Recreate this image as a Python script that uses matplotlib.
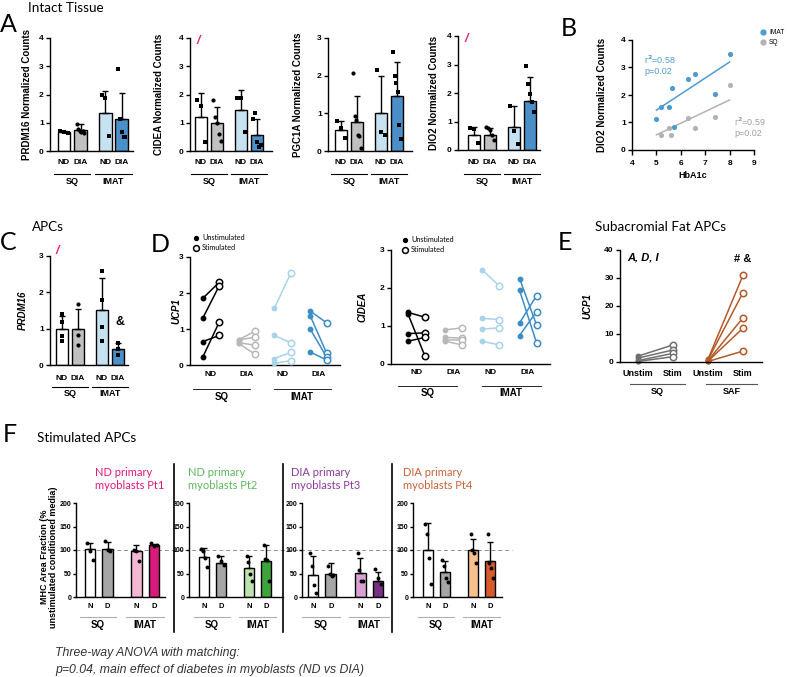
import numpy as np
import matplotlib
matplotlib.use('Agg')
import matplotlib.pyplot as plt
from matplotlib.lines import Line2D
from matplotlib.transforms import blended_transform_factory as blend

plt.rcParams['font.family'] = ['Liberation Sans', 'DejaVu Sans']
plt.rcParams['font.weight'] = 'bold'
plt.rcParams['axes.linewidth'] = 1.0
plt.rcParams['xtick.major.width'] = 1.0
plt.rcParams['ytick.major.width'] = 1.0
plt.rcParams['ytick.major.size'] = 3
plt.rcParams['ytick.major.pad'] = 1.5
plt.rcParams['ytick.labelsize'] = 6
plt.rcParams['xtick.labelsize'] = 6

SANS = ['Lato', 'DejaVu Sans']

# ---------------- data ----------------
# A: intact tissue, bars in order SQ-ND, SQ-DIA, IMAT-ND, IMAT-DIA
bar_names = ['ND', 'DIA', 'ND', 'DIA']
prdm16_mean = [0.66, 0.74, 1.35, 1.12]
prdm16_sd = [0.05, 0.23, 0.78, 0.92]
prdm16_pts = [[0.70, 0.66, 0.63], [0.97, 0.78, 0.70, 0.68, 0.72, 0.62],
              [2.00, 1.88, 0.52], [2.92, 1.15, 0.68, 0.50, 0.48]]
cidea_mean = [1.21, 0.98, 1.45, 0.56]
cidea_sd = [0.83, 0.58, 0.70, 0.59]
cidea_pts = [[1.80, 1.59, 0.33], [1.82, 1.20, 1.00, 0.60, 0.35],
             [1.88, 1.88, 0.66], [1.15, 1.33, 0.33, 0.15, 0.20]]
pgc1a_mean = [0.57, 0.76, 1.02, 1.47]
pgc1a_sd = [0.23, 0.71, 0.98, 0.88]
pgc1a_pts = [[0.80, 0.60, 0.35], [2.06, 0.93, 0.82, 0.42, 0.40, 0.07],
             [2.15, 0.50, 0.42], [2.63, 2.00, 1.81, 1.57, 0.69, 0.31]]
dio2_mean = [0.51, 0.54, 0.82, 1.72]
dio2_sd = [0.31, 0.22, 0.73, 0.83]
dio2_pts = [[0.76, 0.73, 0.23], [0.82, 0.76, 0.70, 0.53, 0.35],
            [1.55, 0.67, 0.22], [2.93, 2.30, 1.95, 1.70, 1.35]]

# B: DIO2 vs HbA1c
imat_hba1c = [5.0, 5.2, 5.5, 5.62, 5.71, 6.31, 6.6, 7.4, 8.0]
imat_dio2 = [1.13, 1.55, 1.58, 2.27, 0.85, 2.58, 2.76, 2.02, 3.49]
sq_hba1c = [5.2, 5.5, 5.6, 6.31, 6.6, 7.4, 8.0]
sq_dio2 = [0.55, 0.79, 0.55, 1.18, 0.79, 1.21, 2.35]
fit_x = [5.0, 8.0]
imat_fit = [1.45, 3.20]
sq_fit = [0.55, 1.82]

# C: APC PRDM16
apc_prdm16_mean = [1.0, 1.0, 1.52, 0.44]
apc_prdm16_sd = [0.35, 0.53, 0.88, 0.16]
apc_prdm16_pts = [[1.40, 1.18, 0.80, 0.65], [1.68, 0.83, 0.55],
                  [2.60, 1.80, 1.05, 0.67], [0.60, 0.45, 0.28]]

# D: paired unstimulated -> stimulated
ucp1_unstim = [[1.85, 1.30, 0.65, 0.22], [0.70, 0.70, 0.62, 0.60],
               [1.58, 0.82, 0.18, 0.05], [1.50, 1.37, 1.00, 0.36]]
ucp1_stim = [[2.30, 2.20, 0.82, 1.19], [0.94, 0.77, 0.55, 0.30],
             [2.55, 0.62, 0.35, 0.12], [1.17, 0.33, 0.22, 0.14]]
cidea_unstim = [[1.36, 1.32, 0.80, 0.60], [0.90, 0.70, 0.62, 0.60],
                [2.47, 1.20, 0.92, 0.60], [2.25, 1.94, 1.08, 0.75]]
cidea_stim = [[1.23, 0.20, 0.82, 0.70], [0.95, 0.68, 0.62, 0.50],
              [2.05, 1.17, 0.95, 0.50], [1.02, 0.55, 1.80, 1.38]]

# E: subacromial fat
e_sq_unstim = [2.1, 1.4, 0.5, 0.2]
e_sq_stim = [6.1, 4.3, 3.1, 1.9]
e_saf_unstim = [1.0, 0.8, 0.5, 0.3, 0.2]
e_saf_stim = [31.0, 24.8, 15.8, 12.1, 3.9]

# F: MHC area fraction, one block per myoblast donor
f_titles = ['ND primary\nmyoblasts Pt1', 'ND primary\nmyoblasts Pt2',
            'DIA primary\nmyoblasts Pt3', 'DIA primary\nmyoblasts Pt4']
f_mean = [[102, 102, 98, 111], [85, 72, 62, 77], [47, 48, 51, 33], [99, 53, 100, 76]]
f_sd = [[13, 16, 13, 2], [20, 15, 26, 33], [40, 24, 31, 20], [58, 23, 24, 41]]
f_pts = [[[115, 97, 79], [120, 100, 98], [100, 98, 76], [115, 109, 111]],
         [[103, 98, 83, 63], [87, 77, 68], [88, 75, 48, 33], [110, 80, 78, 35]],
         [[93, 67, 25, 8], [67, 50, 45, 47], [93, 57, 35, 33], [60, 40, 28]],
         [[155, 135, 84, 28], [79, 65, 40, 32], [134, 100, 93, 73], [134, 72, 62, 40]]]

# colours
tissue_colors = ['white', '#c0c0c0', '#c6e2f1', '#4a8fc7']
pair_colors = ['black', '#b8b8b8', '#a9d3ea', '#3b8dc8']
imat_blue = '#4f9bd0'
sq_grey = '#b3b3b3'
e_sq_color = '#707070'
e_saf_color = '#b35a26'
f_imat_colors = [('#f4b8d4', '#d81b7a'), ('#bfe3ae', '#3da33b'),
                 ('#d9a1d6', '#7a2f86'), ('#f7c18e', '#d85a2c')]
f_title_colors = ['#e0197f', '#5cb85c', '#8e3a9e', '#c8623a']
magenta = '#e8236f'

# ---------------- layout helpers (pixel positions) ----------------
W, H = 787, 677
fig = plt.figure(figsize=(W / 100, H / 100), dpi=100)


def make_ax(x0, y0, x1, y1):
    ax = fig.add_axes([x0 / W, 1 - y1 / H, (x1 - x0) / W, (y1 - y0) / H])
    ax.patch.set_visible(False)
    ax.spines['top'].set_visible(False)
    ax.spines['right'].set_visible(False)
    ax.px = (x0, y0, x1, y1)
    return ax


def fy(ax, ypx):
    x0, y0, x1, y1 = ax.px
    return (y1 - ypx) / (y1 - y0)


def fx(ax, xpx):
    x0, y0, x1, y1 = ax.px
    return (xpx - x0) / (x1 - x0)


def xrange_px(ax, first_px, unit_px):
    x0, y0, x1, y1 = ax.px
    ax.set_xlim((x0 - first_px) / unit_px, (x1 - first_px) / unit_px)


def ftext(x, y, s, **kw):
    fig.text(x / W, 1 - y / H, s, **kw)


def xlabels(ax, pos, names, ypx, size=6):
    ax.set_xticks([])
    tr = blend(ax.transData, ax.transAxes)
    for p, n in zip(pos, names):
        ax.text(p, fy(ax, ypx), n, transform=tr, ha='center', va='center',
                fontsize=size, fontweight='bold')


def groups(ax, spans, names, line_y, text_y, color='black', size=6.5, lw=0.8):
    tr = blend(ax.transData, ax.transAxes)
    for (a, b), n in zip(spans, names):
        ax.plot([a, b], [fy(ax, line_y)] * 2, transform=tr, clip_on=False,
                color=color, lw=lw)
        ax.text((a + b) / 2, fy(ax, text_y), n, transform=tr, ha='center',
                va='center', fontsize=size, fontweight='bold')


def ylab(ax, text, xpx, size=7, style='normal'):
    ax.set_ylabel(text, fontsize=size, fontweight='bold', style=style)
    ax.yaxis.set_label_coords(fx(ax, xpx), 0.5)


def bars(ax, pos, means, sds, pts, colors, markers, width, ms, spread=0.22):
    for p, m, sd, pp, c, mk in zip(pos, means, sds, pts, colors, markers):
        ax.bar(p, m, width=width, color=c, edgecolor='black', linewidth=1.0, zorder=2)
        ax.errorbar(p, m, yerr=[[0], [sd]], fmt='none', ecolor='black',
                    elinewidth=1.0, capsize=2.5, capthick=1.0, zorder=3)
        xs = p + np.linspace(-spread, spread, len(pp))
        ax.scatter(xs, pp, s=ms, marker=mk, color='black', linewidths=0,
                   zorder=4, clip_on=False)


def pairs(ax, xc, unstim, stim, color, off=0.23):
    for u, s in zip(unstim, stim):
        ax.plot([xc - off, xc + off], [u, s], color=color, lw=1.1, zorder=2,
                clip_on=False)
    ax.plot([xc - off] * len(unstim), unstim, 'o', color=color, ms=3.2,
            zorder=3, clip_on=False)
    ax.plot([xc + off] * len(stim), stim, 'o', mfc='white', mec=color, ms=4.6,
            mew=1.1, zorder=3, clip_on=False)


def title(x, y, s):
    ftext(x, y, s, fontsize=9.7, family=SANS, weight='normal', va='center')


def letter(x, y, s):
    ftext(x, y, s, fontsize=18, family=SANS, weight='normal', va='center')


# ---------------- section titles / letters ----------------
title(28, 8, 'Intact Tissue')
letter(0, 25, 'A')
letter(561, 28, 'B')
title(32, 227, 'APCs')
letter(0, 243, 'C')
letter(151, 245, 'D')
letter(558, 243, 'E')
title(595, 227, 'Subacromial Fat APCs')
letter(3, 434, 'F')
title(37, 438, 'Stimulated APCs')

# ---------------- A ----------------
pos4 = [0, 1, 2.5, 3.5]
a_marks = ['s', 'o', 's', 's']
a_specs = [
    (50, 133, 38, 151, 64, 16.5, 4, prdm16_mean, prdm16_sd, prdm16_pts, 'PRDM16 Normalized Counts', 32, False),
    (190, 272, 38, 151, 201, 16.0, 4, cidea_mean, cidea_sd, cidea_pts, 'CIDEA Normalized Counts', 164, True),
    (328, 412, 38, 151, 341, 16.0, 3, pgc1a_mean, pgc1a_sd, pgc1a_pts, 'PGC1A Normalized Counts', 303, False),
    (458, 540, 36, 150, 474, 16.0, 4, dio2_mean, dio2_sd, dio2_pts, 'DIO2 Normalized Counts', 439, True),
]
for x0, x1, y0, y1, first, unit, ymax, mean, sd, pts, lab, labx, slash in a_specs:
    ax = make_ax(x0, y0, x1, y1)
    bars(ax, pos4, mean, sd, pts, tissue_colors, a_marks, 0.78, 9)
    ax.set_ylim(0, ymax)
    ax.set_yticks(range(ymax + 1))
    xrange_px(ax, first, unit)
    xlabels(ax, pos4, bar_names, 163)
    groups(ax, [(-0.6, 1.6), (1.9, 4.1)], ['SQ', 'IMAT'], 174, 181)
    ylab(ax, lab, labx)
    if slash:
        ax.text(fx(ax, x0 + 8), fy(ax, y0 + 3), '/', transform=ax.transAxes,
                color=magenta, fontsize=9, style='italic', ha='center', va='center')

# ---------------- B ----------------
ax = make_ax(632, 40, 754, 150)
ax.scatter(imat_hba1c, imat_dio2, s=14, color=imat_blue, linewidths=0, zorder=3)
ax.scatter(sq_hba1c, sq_dio2, s=14, color=sq_grey, linewidths=0, zorder=3)
ax.plot(fit_x, imat_fit, color=imat_blue, lw=1.1, zorder=2)
ax.plot(fit_x, sq_fit, color=sq_grey, lw=1.1, zorder=2)
ax.set_xlim(4, 9)
ax.set_ylim(0, 4)
ax.set_xticks(range(4, 10))
ax.set_yticks(range(5))
ax.set_xlabel('HbA1c', fontsize=6.5, fontweight='bold', labelpad=3)
ylab(ax, 'DIO2 Normalized Counts', 607)
ax.text(4.5, 3.1, 'r$^2$=0.58\np=0.02', color=imat_blue, fontsize=6.5,
        fontweight='normal', va='center', linespacing=1.1)
ax.text(8.2, 0.85, 'r$^2$=0.59\np=0.02', color='#a0a0a0', fontsize=6.5,
        fontweight='normal', va='center', linespacing=1.1)
# legend drawn by hand so it fits inside the right edge
for yy, lab, col in [(32, 'IMAT', imat_blue), (42, 'SQ', sq_grey)]:
    fig.add_artist(Line2D([763 / W], [1 - yy / H], marker='o', ms=3.5, color=col, lw=0))
    ftext(769, yy, lab, fontsize=4.8, weight='normal', va='center')

# ---------------- C ----------------
ax = make_ax(50, 256, 128, 365)
bars(ax, pos4, apc_prdm16_mean, apc_prdm16_sd, apc_prdm16_pts, tissue_colors,
     a_marks, 0.72, 9, spread=0.0)
ax.set_ylim(0, 3)
ax.set_yticks(range(4))
xrange_px(ax, 62, 16)
xlabels(ax, pos4, bar_names, 379)
groups(ax, [(-0.6, 1.6), (1.9, 4.1)], ['SQ', 'IMAT'], 387, 394)
ylab(ax, 'PRDM16', 28, style='italic')
ax.text(fx(ax, 57), fy(ax, 251), '/', transform=ax.transAxes, color=magenta,
        fontsize=9, style='italic', ha='center', va='center')
ax.text(fx(ax, 120), fy(ax, 322), '&', transform=ax.transAxes, fontsize=9,
        fontweight='bold', ha='center', va='center')

# ---------------- D ----------------
d_specs = [
    (190, 340, 257, 365, 211, 35.8, ucp1_unstim, ucp1_stim, 'UCP1', 181, 196, 238, 374, 389, 397),
    (391, 550, 250, 364, 416.5, 37.2, cidea_unstim, cidea_stim, 'CIDEA', 368, 405, 240, 372, 386, 393),
]
for x0, x1, y0, y1, first, unit, un, st, lab, labx, legx, legy, ty, ly, gy in d_specs:
    ax = make_ax(x0, y0, x1, y1)
    for i in range(4):
        pairs(ax, i, un[i], st[i], pair_colors[i])
    ax.set_ylim(0, 3)
    ax.set_yticks(range(4))
    xrange_px(ax, first, unit)
    xlabels(ax, range(4), bar_names, ty)
    groups(ax, [(-0.5, 1.1), (1.75, 3.35)], ['SQ', 'IMAT'], ly, gy, lw=0.6, size=7)
    ylab(ax, lab, labx, style='italic')
    ax.plot([fx(ax, legx)], [fy(ax, legy)], 'o', color='black', ms=2.8,
            transform=ax.transAxes, clip_on=False)
    ax.plot([fx(ax, legx)], [fy(ax, legy + 10)], 'o', mfc='white', mec='black',
            ms=4.2, mew=1.1, transform=ax.transAxes, clip_on=False)
    ax.text(fx(ax, legx + 6), fy(ax, legy), 'Unstimulated', transform=ax.transAxes,
            fontsize=5.2, family=SANS, weight='normal', va='center')
    ax.text(fx(ax, legx + 6), fy(ax, legy + 10), 'Stimulated', transform=ax.transAxes,
            fontsize=5.2, family=SANS, weight='normal', va='center')

# ---------------- E ----------------
ax = make_ax(620, 250, 762, 362)
for u, s in zip(e_sq_unstim, e_sq_stim):
    ax.plot([0, 1], [u, s], color=e_sq_color, lw=1.1, zorder=2)
ax.plot([0] * len(e_sq_unstim), e_sq_unstim, 'o', color=e_sq_color, ms=3.2, clip_on=False)
ax.plot([1] * len(e_sq_stim), e_sq_stim, 'o', mfc='white', mec=e_sq_color, ms=4.6, mew=1.1)
for u, s in zip(e_saf_unstim, e_saf_stim):
    ax.plot([2, 3], [u, s], color=e_saf_color, lw=1.1, zorder=2)
ax.plot([2] * len(e_saf_unstim), e_saf_unstim, 'o', color=e_saf_color, ms=3.2, clip_on=False)
ax.plot([3] * len(e_saf_stim), e_saf_stim, 'o', mfc='white', mec=e_saf_color, ms=4.6, mew=1.1)
ax.set_ylim(0, 40)
ax.set_yticks(range(0, 41, 10))
xrange_px(ax, 638, 35)
xlabels(ax, [0, 1, 2, 3], ['Unstim', 'Stim', 'Unstim', 'Stim'], 373, size=6.5)
groups(ax, [(-0.23, 1.34), (1.94, 3.4)], ['SQ', 'SAF'], 384, 392, color='#555555', lw=0.8)
ylab(ax, 'UCP1', 592, style='italic')
ax.text(fx(ax, 627), fy(ax, 258), 'A, D, I', transform=ax.transAxes, fontsize=8,
        style='italic', fontweight='bold', va='center')
ax.text(3.0, fy(ax, 259), '# &', transform=blend(ax.transData, ax.transAxes),
        fontsize=8, fontweight='bold', ha='center', va='center')

# ---------------- F ----------------
f_specs = [(76, 165, 90, 17.5), (189, 283, 204, 17.0),
           (302, 387, 313, 17.8), (413, 502, 428, 17.0)]
f_title_x = [95, 188, 291, 403]
f_pos = [0, 1, 2.65, 3.65]
f_axes = []
for k, (x0, x1, first, unit) in enumerate(f_specs):
    ax = make_ax(x0, 503, x1, 597)
    cols = ['white', '#a6a6a6', f_imat_colors[k][0], f_imat_colors[k][1]]
    bars(ax, f_pos, f_mean[k], f_sd[k], f_pts[k], cols, ['o'] * 4, 0.6, 8, spread=0.15)
    ax.set_ylim(0, 200)
    ax.set_yticks(range(0, 201, 50))
    ax.tick_params(axis='y', labelsize=5, length=2.5, pad=1)
    xrange_px(ax, first, unit)
    xlabels(ax, f_pos, ['N', 'D', 'N', 'D'], 607, size=5.5)
    groups(ax, [(-0.6, 1.5), (2.05, 4.25)], ['SQ', 'IMAT'], 617, 625,
           color='#b0b0b0', size=7)
    ftext(f_title_x[k], 479, f_titles[k], color=f_title_colors[k],
          fontsize=8, family=SANS, weight='normal', va='center', linespacing=1.15)
    f_axes.append(ax)

ftext(49, 557, 'MHC Area Fraction (%\nunstimulated conditioned media)', fontsize=6.5,
      rotation=90, ha='center', va='center', fontweight='bold', linespacing=1.1)

# reference line at 100 % across all four blocks
tr = blend(fig.transFigure, f_axes[0].transData)
fig.add_artist(Line2D([76 / W, 512 / W], [100, 100], transform=tr, color='#909090',
                      lw=0.7, ls=(0, (4, 3)), zorder=0))

for xs in [174, 283, 392]:
    fig.add_artist(Line2D([xs / W, xs / W], [1 - 464 / H, 1 - 632 / H], color='black', lw=1.2))

ftext(55, 653, 'Three-way ANOVA with matching:', fontsize=8.8, style='italic',
      fontweight='normal', va='center', color='#333333')
ftext(55, 670, 'p=0.04, main effect of diabetes in myoblasts (ND vs DIA)', fontsize=8.8,
      style='italic', fontweight='normal', va='center', color='#333333')

fig.savefig('out.png', dpi=100)
